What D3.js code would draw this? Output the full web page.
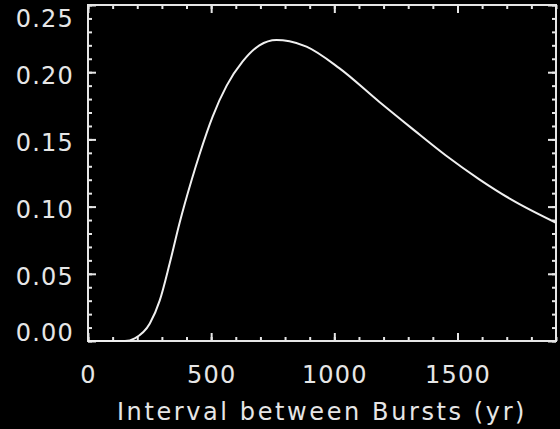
<!DOCTYPE html>
<html>
<head>
<meta charset="utf-8">
<script src="https://cdn.jsdelivr.net/npm/d3@7"></script>
<style>
  html, body { margin: 0; padding: 0; background: #000; }
  svg { display: block; }
  text { font-family: "DejaVu Sans", sans-serif; fill: #e6e6e6; }
</style>
</head>
<body>
<div id="chart"></div>
<script>
// values
const years = [0, 100, 150, 190, 251, 291, 332, 372, 421, 453, 506, 563, 628, 696, 765, 818, 887, 1020, 1182, 1316, 1453, 1587, 1721, 1900];
const prob  = [0, 0, 0, 0.002, 0.013, 0.030, 0.058, 0.088, 0.120, 0.139, 0.167, 0.190, 0.208, 0.220, 0.224, 0.223, 0.219, 0.203, 0.178, 0.158, 0.138, 0.1205, 0.105, 0.088];

const xMajor = [0, 500, 1000, 1500];
const yMajor = [0, 0.05, 0.10, 0.15, 0.20, 0.25];
const xTitle = "Interval between Bursts (yr)";

let width = 560,
    height = 429,
    margin = ({ top: 5, right: 4, bottom: 88, left: 88 });

const svg = d3.select("#chart")
    .append("svg")
    .attr("width", width)
    .attr("height", height);

svg.append("rect").attr("width", width).attr("height", height).attr("fill", "#000");

let x = d3.scaleLinear()
    .domain([0, 1900])
    .range([margin.left, width - margin.right]);

let y = d3.scaleLinear()
    .domain([0, 0.25])
    .range([height - margin.bottom, margin.top]);

const stroke = "#e6e6e6";
const xMinor = d3.range(0, 1901, 100);
const yMinor = d3.range(0, 26, 1).map(d => d / 100);

// minor ticks, all four sides, pointing in
svg.append("g").attr("transform", `translate(0,${y(0)})`)
    .call(d3.axisBottom(x).tickValues(xMinor).tickSize(-4).tickFormat(""));
svg.append("g").attr("transform", `translate(0,${y(0.25)})`)
    .call(d3.axisTop(x).tickValues(xMinor).tickSize(-4).tickFormat(""));
svg.append("g").attr("transform", `translate(${x(0)},0)`)
    .call(d3.axisLeft(y).tickValues(yMinor).tickSize(-4).tickFormat(""));
svg.append("g").attr("transform", `translate(${x(1900)},0)`)
    .call(d3.axisRight(y).tickValues(yMinor).tickSize(-4).tickFormat(""));

// major ticks
svg.append("g").attr("class", "x-axis").attr("transform", `translate(0,${y(0)})`)
    .call(d3.axisBottom(x).tickValues(xMajor).tickSize(-8).tickFormat(d3.format("d")))
    .call(g => g.selectAll(".tick text").attr("y", 42).attr("dy", null));
svg.append("g").attr("transform", `translate(0,${y(0.25)})`)
    .call(d3.axisTop(x).tickValues(xMajor).tickSize(-8).tickFormat(""));
svg.append("g").attr("class", "y-axis").attr("transform", `translate(${x(0)},0)`)
    .call(d3.axisLeft(y).tickValues(yMajor).tickSize(-8).tickFormat(d3.format(".2f")))
    .call(g => g.selectAll(".tick text")
        .attr("x", -14)
        .attr("y", d => Math.min(Math.max(y(d) + 3.5, 18.5), 333) - y(d)));
svg.append("g").attr("transform", `translate(${x(1900)},0)`)
    .call(d3.axisRight(y).tickValues(yMajor).tickSize(-8).tickFormat(""));

svg.selectAll(".domain").remove();
svg.selectAll(".tick line").attr("stroke", stroke).attr("stroke-width", 2);
svg.selectAll(".tick text")
    .attr("fill", "#e6e6e6")
    .style("font-size", "24px")
    .style("letter-spacing", "1.2px")
    .style("font-family", "DejaVu Sans, sans-serif");

// plot box
svg.append("rect")
    .attr("x", x(0)).attr("y", y(0.25))
    .attr("width", x(1900) - x(0)).attr("height", y(0) - y(0.25))
    .attr("fill", "none").attr("stroke", stroke).attr("stroke-width", 2);

// curve
const line = d3.line()
    .x((d, i) => x(years[i]))
    .y(d => y(d))
    .curve(d3.curveMonotoneX);

svg.append("path")
    .datum(prob)
    .attr("d", line)
    .attr("fill", "none")
    .attr("stroke", "#f0f0f0")
    .attr("stroke-width", 2);

svg.append("text")
    .attr("x", (x(0) + x(1900)) / 2)
    .attr("y", 420)
    .attr("text-anchor", "middle")
    .style("font-size", "24px")
    .style("letter-spacing", "2.6px")
    .text(xTitle);
</script>
</body>
</html>
